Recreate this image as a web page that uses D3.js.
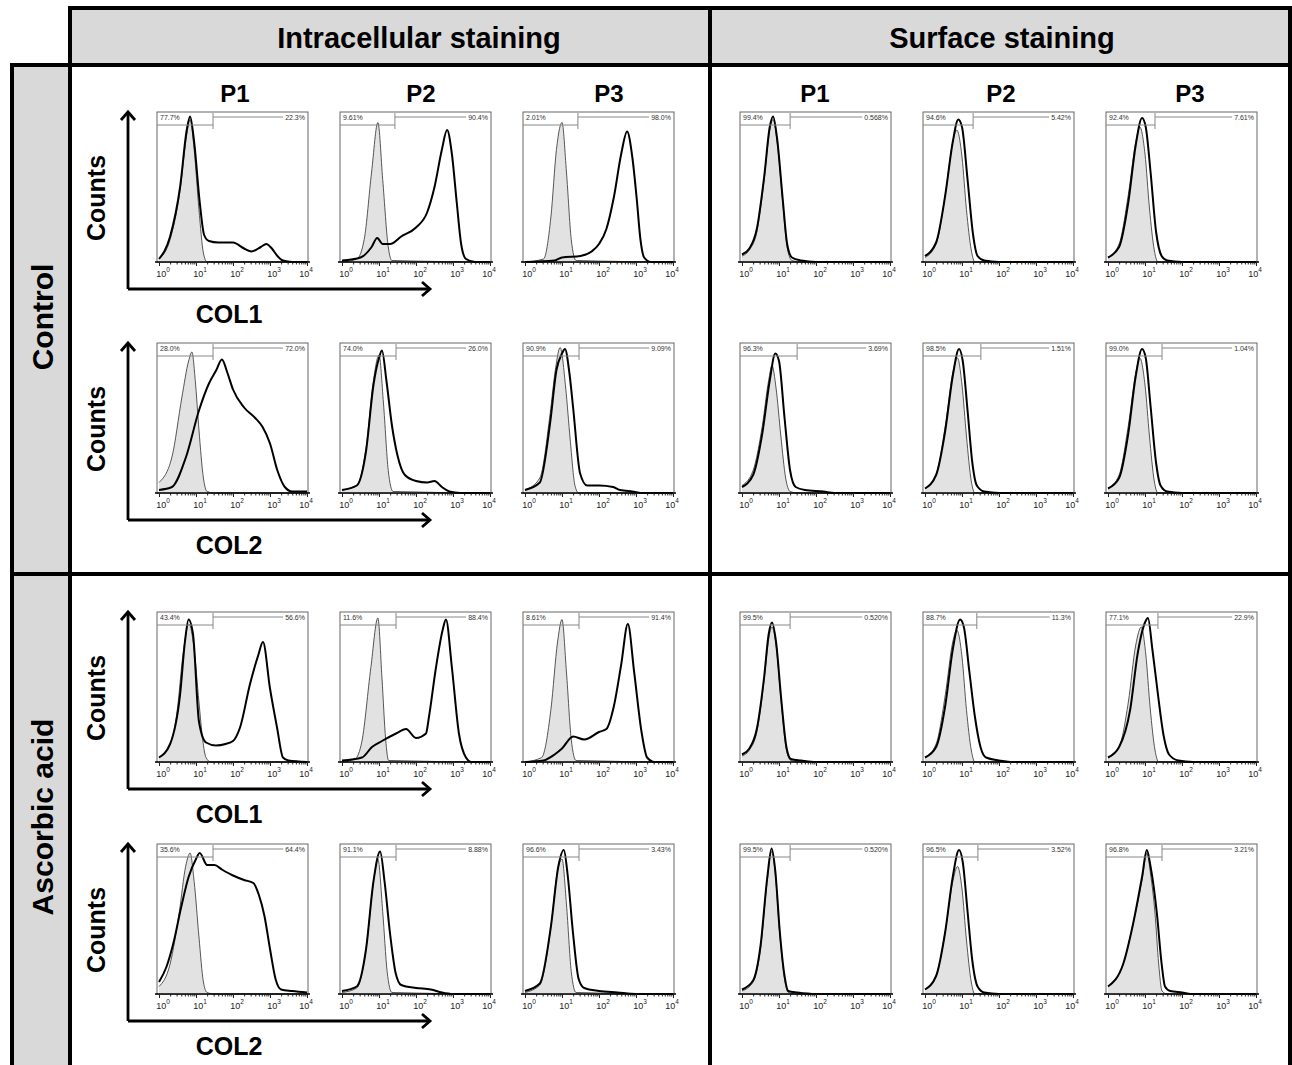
<!DOCTYPE html>
<html>
<head>
<meta charset="utf-8">
<script src="https://cdn.jsdelivr.net/npm/d3@7"></script>
<style>
body { margin: 0; background: #fff; }
text { font-family: "Liberation Sans", Arial, sans-serif; }
</style>
</head>
<body>
<svg></svg>
<script>
// labels
var stainings = ["Intracellular staining", "Surface staining"];
var passages = ["P1", "P2", "P3", "P1", "P2", "P3"];
var treatments = ["Control", "Ascorbic acid"];
var markers = ["COL1", "COL2", "COL1", "COL2"];
var decades = [0, 1, 2, 3, 4];

// percentages (left gate, right gate) per panel: 3 intracellular then 3 surface
var ctrlCol1Pct = [["77.7%","22.3%"],["9.61%","90.4%"],["2.01%","98.0%"],["99.4%","0.568%"],["94.6%","5.42%"],["92.4%","7.61%"]];
var ctrlCol2Pct = [["28.0%","72.0%"],["74.0%","26.0%"],["90.9%","9.09%"],["96.3%","3.69%"],["98.5%","1.51%"],["99.0%","1.04%"]];
var ascCol1Pct  = [["43.4%","56.6%"],["11.6%","88.4%"],["8.61%","91.4%"],["99.5%","0.520%"],["88.7%","11.3%"],["77.1%","22.9%"]];
var ascCol2Pct  = [["35.6%","64.4%"],["91.1%","8.88%"],["96.6%","3.43%"],["99.5%","0.520%"],["96.5%","3.52%"],["96.8%","3.21%"]];

// gate marker position, log10 of fluorescence
var ctrlCol1Gate = [1.46, 1.43, 1.43, 1.3, 1.3, 1.27];
var ctrlCol2Gate = [1.46, 1.46, 1.46, 1.49, 1.51, 1.46];
var ascCol1Gate  = [1.46, 1.46, 1.46, 1.3, 1.4, 1.35];
var ascCol2Gate  = [1.46, 1.46, 1.46, 1.3, 1.43, 1.46];

// histograms: [log10 fluorescence, relative count]
var ctrlCol1Iso = [
  [[0,0.02],[0.3,0.15],[0.57,0.48],[0.75,0.85],[0.84,0.95],[0.95,0.75],[1.08,0.35],[1.2,0.06],[1.3,0],[4,0]],
  [[0,0],[0.4,0.02],[0.6,0.15],[0.8,0.6],[0.97,0.93],[1.1,0.55],[1.25,0.1],[1.35,0.01],[4,0]],
  [[0,0],[0.5,0.02],[0.7,0.3],[0.85,0.75],[1.0,0.93],[1.12,0.6],[1.25,0.15],[1.38,0.01],[4,0]],
  [[0,0.04],[0.2,0.08],[0.4,0.2],[0.6,0.55],[0.75,0.88],[0.84,0.95],[0.95,0.8],[1.1,0.4],[1.22,0.1],[1.35,0.01],[1.6,0],[4,0]],
  [[0,0.03],[0.3,0.12],[0.55,0.45],[0.75,0.8],[0.86,0.88],[1.0,0.7],[1.12,0.35],[1.25,0.08],[1.35,0],[4,0]],
  [[0,0.03],[0.3,0.12],[0.55,0.45],[0.75,0.8],[0.86,0.9],[1.0,0.72],[1.12,0.36],[1.25,0.08],[1.35,0],[4,0]]
];
var ctrlCol1Stain = [
  [[0,0.02],[0.3,0.17],[0.57,0.5],[0.75,0.88],[0.84,0.97],[0.95,0.8],[1.1,0.4],[1.22,0.18],[1.35,0.14],[1.6,0.13],[2.0,0.13],[2.3,0.09],[2.5,0.07],[2.75,0.1],[2.9,0.12],[3.05,0.09],[3.2,0.04],[3.35,0.01],[3.6,0],[4,0]],
  [[0,0.01],[0.5,0.03],[0.8,0.1],[0.95,0.16],[1.1,0.12],[1.3,0.12],[1.6,0.17],[2.0,0.23],[2.3,0.33],[2.5,0.5],[2.7,0.75],[2.84,0.88],[2.97,0.72],[3.1,0.4],[3.22,0.12],[3.35,0.02],[3.6,0],[4,0]],
  [[0,0],[0.8,0.01],[1.0,0.03],[1.5,0.04],[1.8,0.07],[2.0,0.12],[2.2,0.22],[2.4,0.43],[2.6,0.72],[2.76,0.87],[2.9,0.7],[3.02,0.42],[3.12,0.15],[3.22,0.03],[3.4,0],[4,0]],
  [[0,0.05],[0.2,0.09],[0.4,0.22],[0.6,0.57],[0.75,0.9],[0.84,0.97],[0.95,0.82],[1.1,0.42],[1.22,0.12],[1.35,0.03],[1.6,0.01],[2,0],[4,0]],
  [[0,0.04],[0.3,0.13],[0.55,0.45],[0.75,0.8],[0.9,0.95],[1.0,0.9],[1.15,0.55],[1.3,0.18],[1.42,0.04],[1.6,0.01],[2,0],[4,0]],
  [[0,0.03],[0.3,0.1],[0.55,0.4],[0.75,0.78],[0.92,0.96],[1.02,0.9],[1.15,0.6],[1.3,0.2],[1.45,0.04],[1.6,0.01],[2,0],[4,0]]
];
var ctrlCol2Iso = [
  [[0,0.07],[0.35,0.24],[0.62,0.64],[0.8,0.88],[0.89,0.94],[0.98,0.75],[1.08,0.42],[1.2,0.1],[1.3,0.01],[1.5,0],[4,0]],
  [[0,0.02],[0.4,0.05],[0.65,0.3],[0.85,0.75],[1.0,0.92],[1.12,0.6],[1.25,0.15],[1.38,0.01],[4,0]],
  [[0,0.02],[0.4,0.1],[0.68,0.53],[0.82,0.82],[0.95,0.97],[1.1,0.7],[1.22,0.36],[1.35,0.05],[1.45,0],[4,0]],
  [[0,0.05],[0.3,0.15],[0.55,0.45],[0.72,0.75],[0.81,0.85],[0.92,0.7],[1.05,0.38],[1.18,0.1],[1.3,0.01],[1.5,0],[4,0]],
  [[0,0.03],[0.3,0.12],[0.55,0.45],[0.75,0.8],[0.88,0.9],[1.0,0.72],[1.12,0.38],[1.25,0.08],[1.35,0],[4,0]],
  [[0,0.03],[0.3,0.12],[0.55,0.45],[0.75,0.8],[0.86,0.9],[1.0,0.72],[1.12,0.38],[1.25,0.08],[1.35,0],[4,0]]
];
var ctrlCol2Stain = [
  [[0,0.02],[0.35,0.04],[0.73,0.24],[1.08,0.55],[1.35,0.73],[1.55,0.82],[1.7,0.89],[1.85,0.8],[2.0,0.69],[2.3,0.57],[2.6,0.5],[2.8,0.44],[3.0,0.33],[3.2,0.15],[3.4,0.04],[3.6,0.01],[4,0.01]],
  [[0,0.02],[0.4,0.05],[0.65,0.28],[0.85,0.72],[1.0,0.9],[1.08,0.95],[1.2,0.75],[1.35,0.45],[1.5,0.25],[1.7,0.12],[2.0,0.08],[2.3,0.07],[2.5,0.08],[2.7,0.04],[2.9,0.01],[3.2,0],[4,0]],
  [[0,0.02],[0.4,0.07],[0.68,0.47],[0.85,0.82],[1.0,0.93],[1.08,0.96],[1.2,0.8],[1.3,0.57],[1.49,0.13],[1.68,0.05],[2.0,0.05],[2.38,0.04],[2.57,0.02],[2.9,0.01],[3.2,0],[4,0]],
  [[0,0.04],[0.3,0.12],[0.55,0.4],[0.75,0.75],[0.9,0.93],[1.0,0.88],[1.15,0.5],[1.3,0.15],[1.45,0.04],[1.7,0.02],[2.2,0.01],[2.5,0],[4,0]],
  [[0,0.03],[0.3,0.12],[0.55,0.42],[0.75,0.78],[0.92,0.96],[1.02,0.88],[1.15,0.55],[1.28,0.2],[1.4,0.05],[1.6,0.01],[2,0],[4,0]],
  [[0,0.03],[0.3,0.1],[0.55,0.4],[0.75,0.78],[0.92,0.96],[1.02,0.9],[1.15,0.58],[1.3,0.2],[1.42,0.05],[1.6,0.01],[2,0],[4,0]]
];
var ascCol1Iso = [
  [[0,0.03],[0.3,0.12],[0.49,0.34],[0.65,0.72],[0.81,0.92],[0.95,0.75],[1.08,0.4],[1.18,0.15],[1.27,0.03],[1.4,0],[4,0]],
  [[0,0],[0.35,0.02],[0.54,0.14],[0.78,0.63],[0.97,0.96],[1.08,0.56],[1.18,0.15],[1.26,0.01],[4,0]],
  [[0,0],[0.45,0.03],[0.7,0.35],[0.88,0.8],[1.0,0.95],[1.12,0.6],[1.25,0.15],[1.38,0.01],[4,0]],
  [[0,0.04],[0.2,0.08],[0.4,0.2],[0.6,0.55],[0.72,0.82],[0.81,0.9],[0.92,0.78],[1.06,0.4],[1.2,0.08],[1.32,0.01],[1.6,0],[4,0]],
  [[0,0.03],[0.3,0.12],[0.55,0.45],[0.75,0.8],[0.86,0.88],[1.0,0.7],[1.12,0.35],[1.25,0.08],[1.35,0],[4,0]],
  [[0,0.03],[0.3,0.1],[0.55,0.4],[0.75,0.78],[0.9,0.9],[1.02,0.72],[1.14,0.36],[1.27,0.08],[1.37,0],[4,0]]
];
var ascCol1Stain = [
  [[0,0.03],[0.3,0.12],[0.57,0.45],[0.7,0.8],[0.8,0.95],[0.92,0.85],[1.08,0.27],[1.27,0.13],[1.54,0.11],[1.8,0.12],[2.0,0.14],[2.19,0.23],[2.46,0.52],[2.68,0.71],[2.81,0.8],[3.0,0.49],[3.19,0.23],[3.35,0.03],[3.5,0.01],[4,0]],
  [[0,0.01],[0.54,0.03],[0.81,0.1],[1.08,0.14],[1.46,0.19],[1.73,0.22],[2.0,0.16],[2.27,0.19],[2.35,0.3],[2.54,0.63],[2.72,0.88],[2.81,0.95],[2.97,0.63],[3.16,0.19],[3.35,0.03],[3.5,0],[4,0]],
  [[0,0],[0.5,0.01],[0.8,0.05],[1.0,0.09],[1.3,0.17],[1.6,0.15],[2.0,0.2],[2.2,0.22],[2.4,0.37],[2.6,0.65],[2.78,0.92],[2.95,0.6],[3.15,0.2],[3.3,0.03],[3.5,0],[4,0]],
  [[0,0.05],[0.2,0.09],[0.4,0.22],[0.6,0.57],[0.72,0.85],[0.81,0.93],[0.92,0.8],[1.06,0.42],[1.2,0.1],[1.32,0.02],[1.6,0.01],[2,0],[4,0]],
  [[0,0.03],[0.3,0.1],[0.55,0.38],[0.75,0.75],[0.95,0.95],[1.05,0.9],[1.2,0.6],[1.35,0.3],[1.5,0.1],[1.65,0.03],[2,0.01],[2.3,0],[4,0]],
  [[0,0.03],[0.3,0.1],[0.6,0.35],[0.8,0.72],[1.0,0.93],[1.08,0.96],[1.2,0.75],[1.35,0.45],[1.5,0.18],[1.65,0.05],[1.9,0.01],[2.3,0],[4,0]]
];
var ascCol2Iso = [
  [[0,0.05],[0.3,0.2],[0.55,0.55],[0.72,0.85],[0.84,0.94],[0.95,0.75],[1.08,0.38],[1.2,0.08],[1.3,0.01],[1.5,0],[4,0]],
  [[0,0.01],[0.4,0.04],[0.65,0.3],[0.85,0.75],[0.97,0.9],[1.1,0.55],[1.22,0.15],[1.35,0.01],[4,0]],
  [[0,0.01],[0.4,0.06],[0.7,0.45],[0.88,0.82],[1.0,0.9],[1.12,0.6],[1.25,0.15],[1.38,0.01],[4,0]],
  [[0,0.02],[0.3,0.08],[0.5,0.3],[0.68,0.75],[0.8,0.95],[0.9,0.8],[1.02,0.4],[1.15,0.1],[1.25,0.01],[1.5,0],[4,0]],
  [[0,0.03],[0.3,0.12],[0.55,0.42],[0.75,0.75],[0.88,0.85],[1.0,0.7],[1.12,0.36],[1.25,0.08],[1.35,0],[4,0]],
  [[0,0.05],[0.41,0.2],[0.68,0.47],[0.92,0.76],[1.05,0.94],[1.15,0.8],[1.27,0.54],[1.37,0.2],[1.46,0.02],[1.6,0],[4,0]]
];
var ascCol2Stain = [
  [[0,0.08],[0.2,0.18],[0.4,0.35],[0.6,0.58],[0.8,0.78],[1.0,0.9],[1.1,0.94],[1.3,0.86],[1.5,0.86],[1.7,0.83],[2.0,0.79],[2.3,0.76],[2.55,0.74],[2.7,0.66],[2.85,0.52],[3.0,0.3],[3.15,0.1],[3.3,0.03],[3.6,0.02],[4,0.01]],
  [[0,0.02],[0.4,0.05],[0.65,0.3],[0.85,0.75],[1.03,0.95],[1.15,0.75],[1.3,0.4],[1.45,0.14],[1.6,0.06],[2.0,0.04],[2.4,0.03],[2.7,0.01],[3,0],[4,0]],
  [[0,0.02],[0.4,0.07],[0.7,0.45],[0.9,0.85],[1.05,0.96],[1.15,0.8],[1.3,0.4],[1.45,0.1],[1.6,0.04],[2.0,0.02],[2.5,0.01],[3,0],[4,0]],
  [[0,0.03],[0.3,0.09],[0.5,0.32],[0.68,0.77],[0.8,0.97],[0.9,0.82],[1.02,0.42],[1.15,0.12],[1.25,0.02],[1.5,0.01],[2,0],[4,0]],
  [[0,0.03],[0.3,0.12],[0.55,0.42],[0.75,0.78],[0.92,0.96],[1.02,0.88],[1.15,0.55],[1.28,0.22],[1.42,0.05],[1.6,0.01],[2,0],[4,0]],
  [[0,0.05],[0.41,0.2],[0.68,0.47],[0.92,0.78],[1.05,0.96],[1.15,0.85],[1.32,0.54],[1.45,0.2],[1.54,0.05],[1.68,0.02],[2,0.01],[2.3,0],[4,0]]
];

var rows = [
  {iso: ctrlCol1Iso, stain: ctrlCol1Stain, pct: ctrlCol1Pct, gate: ctrlCol1Gate, marker: markers[0]},
  {iso: ctrlCol2Iso, stain: ctrlCol2Stain, pct: ctrlCol2Pct, gate: ctrlCol2Gate, marker: markers[1]},
  {iso: ascCol1Iso,  stain: ascCol1Stain,  pct: ascCol1Pct,  gate: ascCol1Gate,  marker: markers[2]},
  {iso: ascCol2Iso,  stain: ascCol2Stain,  pct: ascCol2Pct,  gate: ascCol2Gate,  marker: markers[3]}
];

var width = 1292, height = 1065;
var svg = d3.select("svg").attr("width", width).attr("height", height);

// layout
var colX = [157, 340, 523, 740, 923, 1106];
var colLabelX = [235, 421, 609, 815, 1001, 1190];
var rowTop = [112, 343, 612, 844];
var boxW = 151, boxH = 150;
var grey = "#d9d9d9";

// frame
svg.append("rect").attr("x", 70).attr("y", 8).attr("width", 1220).attr("height", 57).attr("fill", grey);
svg.append("rect").attr("x", 12).attr("y", 65).attr("width", 58).attr("height", 1010).attr("fill", grey);
var frameLines = [
  [70, 8, 1290, 8], [12, 65, 1290, 65], [12, 574, 1290, 574],
  [12, 65, 12, 1070], [70, 8, 70, 1070], [710, 8, 710, 1070], [1290, 8, 1290, 1070]
];
svg.selectAll("line.frame").data(frameLines).enter().append("line")
  .attr("class", "frame")
  .attr("x1", function(d){return d[0]}).attr("y1", function(d){return d[1]})
  .attr("x2", function(d){return d[2]}).attr("y2", function(d){return d[3]})
  .attr("stroke", "#000").attr("stroke-width", 4).attr("stroke-linecap", "square");

svg.selectAll("text.head").data(stainings).enter().append("text")
  .attr("class", "head")
  .attr("x", function(d, i){return i == 0 ? 419 : 1002})
  .attr("y", 48)
  .attr("text-anchor", "middle").attr("font-size", 29).attr("font-weight", "bold")
  .text(function(d){return d});

svg.selectAll("text.treat").data(treatments).enter().append("text")
  .attr("class", "treat")
  .attr("transform", function(d, i){return "translate(53," + (i == 0 ? 317 : 817) + ") rotate(-90)"})
  .attr("text-anchor", "middle").attr("font-size", 30).attr("font-weight", "bold")
  .text(function(d){return d});

svg.selectAll("text.pass").data(passages).enter().append("text")
  .attr("class", "pass")
  .attr("x", function(d, i){return colLabelX[i]}).attr("y", 102)
  .attr("text-anchor", "middle").attr("font-size", 24).attr("font-weight", "bold")
  .text(function(d){return d});

var area = d3.area().curve(d3.curveMonotoneX);
var line = d3.line().curve(d3.curveMonotoneX);

function drawPanel(g, iso, stain, pct, gate){
  var x = d3.scaleLog().domain([1, 10000]).range([2, boxW - 1]);
  var y = d3.scaleLinear().domain([0, 1]).range([boxH, 0]);
  var px = function(d){return x(Math.pow(10, d[0]))};
  var py = function(d){return y(d[1])};

  g.append("rect").attr("width", boxW).attr("height", boxH)
    .attr("fill", "#fff").attr("stroke", "#666").attr("stroke-width", 1);

  g.append("path").datum(iso)
    .attr("d", area.x(px).y0(boxH).y1(py))
    .attr("fill", "#e2e2e2");
  g.append("path").datum(iso)
    .attr("d", line.x(px).y(py))
    .attr("fill", "none").attr("stroke", "#444").attr("stroke-width", 0.9);
  g.append("path").datum(stain)
    .attr("d", line.x(px).y(py))
    .attr("fill", "none").attr("stroke", "#000").attr("stroke-width", 2).attr("stroke-linejoin", "round");

  // axis with minor ticks
  var minor = [];
  for (var e = 0; e < 4; e++) for (var m = 2; m < 10; m++) minor.push(m * Math.pow(10, e));
  var ax = g.append("g").attr("transform", "translate(0," + boxH + ")");
  ax.call(d3.axisBottom(x).tickValues(minor).tickSize(2.5).tickFormat(""));
  ax.append("g").call(d3.axisBottom(x).tickValues(decades.map(function(d){return Math.pow(10, d)})).tickSize(4).tickFormat(""));
  ax.selectAll(".domain").attr("d", "M-2,0H" + (boxW + 2)).attr("stroke", "#000");
  ax.selectAll("line").attr("stroke", "#222");

  var lab = g.selectAll("text.tick10").data(decades).enter().append("text")
    .attr("class", "tick10")
    .attr("x", function(d){return x(Math.pow(10, d)) + (d == 4 ? -1 : 4)})
    .attr("y", boxH + 15)
    .attr("text-anchor", "middle").attr("font-size", 9).attr("fill", "#222");
  lab.append("tspan").text("10");
  lab.append("tspan").attr("dy", -5).attr("font-size", 6.5).text(function(d){return d});

  // gates
  var gx = x(Math.pow(10, gate));
  g.append("text").attr("x", 3).attr("y", 7.5).attr("font-size", 7).attr("fill", "#333").text(pct[0]);
  var rt = g.append("text").attr("x", boxW - 3).attr("y", 7.5).attr("text-anchor", "end")
    .attr("font-size", 7).attr("fill", "#333").text(pct[1]);
  var rw = rt.node().getComputedTextLength();
  var gl = [
    [0, 13, gx, 13], [gx, 9, gx, 17],
    [gx, 5, boxW - 5 - rw, 5], [gx, 1, gx, 9]
  ];
  g.selectAll("line.gate").data(gl).enter().append("line")
    .attr("class", "gate")
    .attr("x1", function(d){return d[0]}).attr("y1", function(d){return d[1]})
    .attr("x2", function(d){return d[2]}).attr("y2", function(d){return d[3]})
    .attr("stroke", "#888").attr("stroke-width", 1);
}

function arrow(pts){
  return d3.line()(pts);
}

rows.forEach(function(row, r){
  var top = rowTop[r];
  var yH = top + 177;
  // axis arrows
  var a = svg.append("g").attr("fill", "none").attr("stroke", "#000").attr("stroke-width", 2.8);
  a.append("path").attr("d", arrow([[128, yH], [128, top]]));
  a.append("path").attr("d", arrow([[121, top + 8], [128, top], [135, top + 8]]));
  a.append("path").attr("d", arrow([[128, yH], [430, yH]]));
  a.append("path").attr("d", arrow([[422, yH - 7], [430, yH], [422, yH + 7]]));

  svg.append("text")
    .attr("transform", "translate(105," + (top + 86) + ") rotate(-90)")
    .attr("text-anchor", "middle").attr("font-size", 25).attr("font-weight", "bold")
    .text("Counts");
  svg.append("text")
    .attr("x", 229).attr("y", top + 211)
    .attr("text-anchor", "middle").attr("font-size", 25).attr("font-weight", "bold")
    .text(row.marker);

  for (var c = 0; c < 6; c++){
    var g = svg.append("g").attr("transform", "translate(" + colX[c] + "," + top + ")");
    drawPanel(g, row.iso[c], row.stain[c], row.pct[c], row.gate[c]);
  }
});
</script>
</body>
</html>
